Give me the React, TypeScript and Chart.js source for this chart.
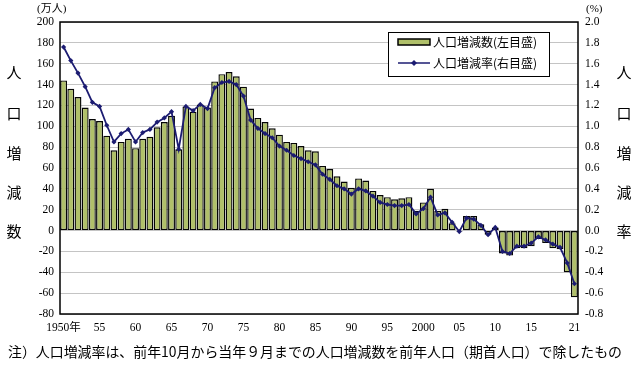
import React, { useEffect, useRef } from 'react';
import { Chart, registerables } from 'chart.js';

Chart.register(...registerables);

const years: number[] = [
  1950, 1951, 1952, 1953, 1954, 1955, 1956, 1957, 1958, 1959,
  1960, 1961, 1962, 1963, 1964, 1965, 1966, 1967, 1968, 1969,
  1970, 1971, 1972, 1973, 1974, 1975, 1976, 1977, 1978, 1979,
  1980, 1981, 1982, 1983, 1984, 1985, 1986, 1987, 1988, 1989,
  1990, 1991, 1992, 1993, 1994, 1995, 1996, 1997, 1998, 1999,
  2000, 2001, 2002, 2003, 2004, 2005, 2006, 2007, 2008, 2009,
  2010, 2011, 2012, 2013, 2014, 2015, 2016, 2017, 2018, 2019,
  2020, 2021,
];

// 人口増減数 (万人)
const populationChange: number[] = [
  144, 136, 128, 118, 107, 105, 91, 77, 85, 88,
  79, 88, 90, 99, 104, 110, 78, 119, 114, 121,
  118, 143, 150, 152, 148, 138, 117, 108, 104, 98,
  92, 85, 84, 81, 77, 76, 62, 59, 52, 47,
  41, 50, 48, 38, 34, 32, 30, 31, 32, 19,
  27, 40, 19, 21, 7, -1, 14, 14, 6, -4,
  3, -22, -24, -17, -17, -15, -8, -12, -17, -18,
  -40, -64,
];

// 人口増減率 (%)
const populationRate: number[] = [
  1.76, 1.63, 1.51, 1.38, 1.23, 1.19, 1.01, 0.85, 0.93, 0.97,
  0.85, 0.94, 0.97, 1.04, 1.08, 1.14, 0.78, 1.19, 1.15, 1.21,
  1.17, 1.37, 1.42, 1.43, 1.40, 1.29, 1.06, 0.98, 0.93, 0.89,
  0.81, 0.77, 0.72, 0.69, 0.66, 0.63, 0.54, 0.49, 0.43, 0.40,
  0.35, 0.40, 0.38, 0.33, 0.27, 0.25, 0.24, 0.24, 0.25, 0.16,
  0.21, 0.32, 0.15, 0.17, 0.08, -0.01, 0.12, 0.11, 0.05, -0.04,
  0.03, -0.20, -0.22, -0.15, -0.15, -0.12, -0.06, -0.09, -0.13, -0.16,
  -0.31, -0.51,
];

const xTickLabels: Record<number, string> = {
  1950: '1950年', 1955: '55', 1960: '60', 1965: '65', 1970: '70',
  1975: '75', 1980: '80', 1985: '85', 1990: '90', 1995: '95',
  2000: '2000', 2005: '05', 2010: '10', 2015: '15', 2021: '21',
};

const seriesNames = ['人口増減数(左目盛)', '人口増減率(右目盛)'];
const leftVertical = ['人', '口', '増', '減', '数'];
const rightVertical = ['人', '口', '増', '減', '率'];
const leftUnit = '(万人)';
const rightUnit = '(%)';
const note = '注）人口増減率は、前年10月から当年９月までの人口増減数を前年人口（期首人口）で除したもの';

const BAR_FILL = '#b0c06a';
const LINE_COLOR = '#1c1c72';
const SERIF = "'Liberation Serif', 'DejaVu Serif', 'Noto Sans CJK JP', serif";
const CJK = "'Noto Sans CJK JP', 'Liberation Serif', sans-serif";

const decorPlugin = {
  id: 'decor',
  afterDraw(chart: any) {
    const { ctx, chartArea } = chart;
    ctx.save();
    // plot border
    ctx.strokeStyle = '#000';
    ctx.lineWidth = 1.5;
    ctx.strokeRect(chartArea.left, chartArea.top, chartArea.right - chartArea.left, chartArea.bottom - chartArea.top);

    // units
    ctx.fillStyle = '#000';
    ctx.font = `11px ${SERIF}`;
    ctx.textBaseline = 'middle';
    ctx.textAlign = 'left';
    ctx.fillText(leftUnit, 37, 9);
    ctx.fillText(rightUnit, 586, 9);

    // vertical labels
    ctx.font = `15px ${CJK}`;
    ctx.textAlign = 'center';
    const ys = [72, 113, 153, 192, 231];
    leftVertical.forEach((c, i) => ctx.fillText(c, 14, ys[i]));
    rightVertical.forEach((c, i) => ctx.fillText(c, 624, ys[i]));

    // legend
    const lx = 388, ly = 32, lw = 161, lh = 44;
    ctx.fillStyle = '#fff';
    ctx.fillRect(lx, ly, lw, lh);
    ctx.strokeStyle = '#000';
    ctx.lineWidth = 1;
    ctx.strokeRect(lx + 0.5, ly + 0.5, lw, lh);
    ctx.fillStyle = BAR_FILL;
    ctx.fillRect(398, 39, 32, 6);
    ctx.lineWidth = 1.5;
    ctx.strokeRect(398, 39, 32, 6);
    ctx.strokeStyle = LINE_COLOR;
    ctx.lineWidth = 1.5;
    ctx.beginPath();
    ctx.moveTo(398, 63);
    ctx.lineTo(430, 63);
    ctx.stroke();
    ctx.fillStyle = LINE_COLOR;
    ctx.beginPath();
    ctx.moveTo(414, 60);
    ctx.lineTo(417, 63);
    ctx.lineTo(414, 66);
    ctx.lineTo(411, 63);
    ctx.closePath();
    ctx.fill();
    ctx.fillStyle = '#000';
    ctx.textAlign = 'left';
    ctx.font = `12px ${CJK}`;
    ctx.fillText(seriesNames[0], 433, 42);
    ctx.fillText(seriesNames[1], 433, 63);

    // note
    ctx.font = `14px ${CJK}`;
    const w = ctx.measureText(note).width;
    const target = 614;
    ctx.translate(8, 352);
    ctx.scale(target / w, 1);
    ctx.fillText(note, 0, 0);
    ctx.restore();
  },
};

export default function App() {
  const canvasRef = useRef<HTMLCanvasElement | null>(null);

  useEffect(() => {
    if (!canvasRef.current) return;
    const chart = new Chart(canvasRef.current, {
      type: 'bar',
      data: {
        labels: years.map(String),
        datasets: [
          {
            type: 'line',
            label: seriesNames[1],
            data: populationRate,
            yAxisID: 'y1',
            borderColor: LINE_COLOR,
            backgroundColor: LINE_COLOR,
            borderWidth: 1.8,
            pointStyle: 'rectRot',
            pointRadius: 2.6,
            pointBorderWidth: 0,
            tension: 0,
            order: 0,
          } as any,
          {
            type: 'bar',
            label: seriesNames[0],
            data: populationChange,
            yAxisID: 'y',
            backgroundColor: BAR_FILL,
            borderColor: '#050505',
            borderWidth: 1.4,
            borderSkipped: false,
            categoryPercentage: 1,
            barPercentage: 0.96,
            order: 1,
          } as any,
        ],
      },
      options: {
        animation: false,
        responsive: true,
        maintainAspectRatio: false,
        layout: { padding: { top: 22, left: 0, right: 0, bottom: 40 } },
        plugins: {
          legend: { display: false },
          tooltip: { enabled: false },
        },
        scales: {
          x: {
            type: 'category',
            offset: true,
            grid: { display: false, drawTicks: false },
            border: { display: false },
            ticks: {
              autoSkip: false,
              maxRotation: 0,
              minRotation: 0,
              padding: 7,
              color: '#000',
              font: { family: SERIF, size: 11.5 },
              callback: (_v: any, i: number) => xTickLabels[years[i]] ?? '',
            },
            afterFit: (s: any) => { s.height = 24; },
          },
          y: {
            position: 'left',
            min: -80,
            max: 200,
            ticks: {
              stepSize: 20,
              padding: 6,
              color: '#000',
              font: { family: SERIF, size: 11.5 },
            },
            grid: { color: '#c4c4c4', lineWidth: 1, drawTicks: false },
            border: { display: false },
            afterFit: (s: any) => { s.width = 60; },
          },
          y1: {
            position: 'right',
            min: -0.8,
            max: 2.0,
            ticks: {
              stepSize: 0.2,
              padding: 7,
              color: '#000',
              font: { family: SERIF, size: 11.5 },
              callback: (v: any) => {
                const n = Number(v);
                return Math.abs(n) < 1e-9 ? '0.0' : n.toFixed(1);
              },
            },
            grid: { display: false, drawTicks: false },
            border: { display: false },
            afterFit: (s: any) => { s.width = 62; },
          },
        },
      },
      plugins: [decorPlugin],
    });
    return () => chart.destroy();
  }, []);

  return (
    <div style={{ position: 'fixed', left: 0, top: 0, width: 640, height: 378, background: '#fff' }}>
      <canvas ref={canvasRef} />
    </div>
  );
}
